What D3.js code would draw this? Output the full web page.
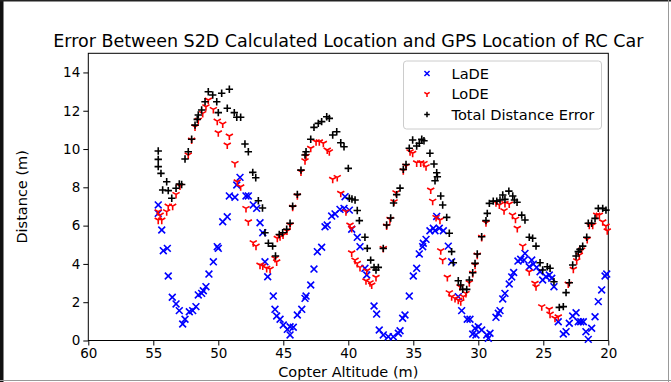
<!DOCTYPE html>
<html>
<head>
<meta charset="utf-8">
<script src="https://cdn.jsdelivr.net/npm/d3@7"></script>
<style>
  body { margin: 0; background: #fff; }
  svg { display: block; font-family: "DejaVu Sans", sans-serif; }
</style>
</head>
<body>
<div id="chart"></div>
<script>
const titleText = "Error Between S2D Calculated Location and GPS Location of RC Car";
const xTicks = [60, 55, 50, 45, 40, 35, 30, 25, 20];
const yTicks = [0, 2, 4, 6, 8, 10, 12, 14];
const seriesNames = ["LaDE", "LoDE", "Total Distance Error"];

// [copter altitude (m), error (m)]
const lade = [
  [54.62,7.08],[54.62,6.64],[54.35,5.77],[54.23,4.69],[53.92,4.81],[53.85,3.37],[53.54,2.26],[53.25,1.91],
  [53.0,1.56],[52.74,0.86],[52.56,1.11],[52.23,1.50],[51.97,1.56],[51.72,1.77],[51.54,2.38],[51.28,2.46],
  [51.15,2.60],[50.95,2.81],[50.72,3.47],[50.38,4.11],[50.08,4.90],[50.0,4.81],[49.66,6.20],[49.31,6.46],
  [49.15,7.55],[48.72,7.48],[48.58,8.12],[48.33,8.52],[47.87,7.55],[47.69,7.55],[47.31,7.08],[47.05,6.90],
  [46.79,6.15],[46.58,5.63],[46.41,4.11],[46.2,3.33],[45.77,2.32],[45.64,1.63],[45.51,1.28],[45.25,1.11],
  [45.0,0.81],[44.69,0.58],[44.48,0.72],[44.48,0.29],[44.23,0.69],[43.92,1.33],[43.58,1.63],[43.33,2.20],
  [43.25,2.32],[42.89,2.90],[42.64,3.73],[42.38,4.64],[42.05,4.87],[41.79,5.94],[41.62,6.03],[41.28,6.50],
  [41.02,6.61],[40.64,6.85],[40.33,6.90],[40.25,7.51],[39.92,6.81],[39.74,5.81],[39.31,5.39],[39.1,4.90],
  [38.72,3.77],[38.58,3.42],[38.02,1.80],[37.82,1.38],[37.62,0.55],[37.31,0.29],[36.92,0.20],[36.54,0.20],
  [36.15,0.38],[36.02,0.51],[35.82,1.16],[35.64,1.33],[35.31,2.32],[35.0,3.37],[34.74,3.77],[34.54,4.52],
  [34.28,4.90],[34.23,5.08],[34.02,5.28],[33.72,5.73],[33.46,5.86],[33.33,5.73],[33.2,6.48],[33.0,5.86],
  [32.69,5.73],[32.31,4.93],[32.05,4.11],[31.54,2.29],[31.28,1.56],[30.85,1.11],[30.64,1.11],[30.43,0.34],
  [30.25,0.64],[30.18,0.29],[30.0,0.72],[29.74,0.55],[29.35,0.29],[29.23,0.11],[29.1,0.38],[28.64,1.21],
  [28.46,1.42],[28.33,1.56],[28.12,2.17],[27.95,2.46],[27.62,2.95],[27.43,3.32],[27.28,3.55],[26.95,4.15],
  [26.74,4.24],[26.48,4.20],[26.41,4.55],[26.08,3.85],[25.89,4.20],[25.77,3.99],[25.51,3.82],[25.25,3.59],
  [25.05,3.16],[24.79,3.33],[24.54,3.42],[24.35,3.25],[24.18,2.81],[23.85,0.98],[23.46,0.34],[23.25,0.46],
  [23.0,0.90],[22.74,1.28],[22.48,1.45],[22.31,0.98],[22.12,0.98],[21.92,0.98],[21.72,0.46],[21.54,0.06],
  [21.28,0.64],[21.02,1.24],[20.77,2.03],[20.51,2.64],[20.25,3.37],[20.12,3.47]
];

const lode = [
  [54.62,6.73],[54.62,6.29],[54.48,6.55],[54.35,6.29],[53.97,6.73],[53.85,7.02],[53.51,7.02],[53.25,7.63],
  [52.95,8.07],[52.31,9.69],[52.05,10.47],[51.79,11.16],[51.54,11.51],[51.2,11.86],[50.95,12.21],[50.77,12.56],
  [50.38,12.07],[50.08,11.46],[49.66,11.31],[50.0,10.85],[49.15,10.68],[49.31,10.21],[48.72,9.25],[48.54,8.29],
  [48.28,8.03],[47.87,6.90],[47.69,6.20],[47.31,5.11],[47.1,4.93],[46.79,3.94],[46.58,3.89],[46.28,3.77],
  [46.02,3.73],[45.64,4.29],[45.51,4.11],[45.46,5.34],[45.25,5.42],[45.02,5.51],[44.72,5.72],[44.48,6.03],
  [44.28,6.96],[43.92,7.56],[43.64,8.81],[43.33,9.39],[43.25,9.63],[42.89,10.04],[42.48,10.38],[42.23,10.38],
  [41.92,10.30],[41.62,9.95],[41.46,9.86],[41.2,8.42],[40.85,8.52],[40.58,7.69],[40.18,6.73],[39.87,6.03],
  [39.74,5.86],[39.74,4.58],[39.48,4.20],[39.31,4.03],[39.1,3.82],[38.58,3.64],[38.64,3.12],[38.33,3.02],
  [38.2,2.90],[37.87,3.30],[37.31,4.81],[37.05,5.98],[36.79,6.33],[36.48,7.25],[36.33,7.72],[35.77,8.87],
  [35.56,9.11],[35.25,9.86],[35.05,9.78],[34.74,9.28],[34.43,9.28],[34.18,9.25],[34.02,9.08],[33.66,7.86],
  [33.51,7.28],[33.25,6.43],[32.95,6.29],[32.89,4.69],[32.74,4.20],[32.38,3.30],[32.23,2.50],[32.05,2.29],
  [31.79,2.20],[31.54,2.11],[31.35,2.03],[31.41,2.81],[31.15,2.29],[30.95,2.46],[30.69,3.02],[30.43,3.51],
  [30.25,3.94],[30.08,4.46],[29.74,5.39],[29.41,6.15],[28.64,7.20],[28.38,7.08],[27.95,7.16],[28.02,6.78],
  [27.62,7.13],[27.37,6.55],[27.14,6.34],[27.0,5.86],[26.58,4.93],[26.08,3.59],[25.64,2.99],[25.56,2.81],
  [25.12,1.77],[24.54,1.63],[24.48,1.38],[24.1,1.16],[23.85,1.24],[23.08,2.95],[22.69,3.72],[22.43,4.17],
  [22.23,4.46],[22.05,4.73],[21.62,5.28],[21.46,6.03],[21.2,6.03],[20.89,6.55],[20.69,6.55],[20.43,6.20],
  [20.18,5.98],[20.08,5.73]
];

const total = [
  [54.62,9.90],[54.62,9.46],[54.62,9.08],[54.41,8.73],[53.97,8.29],[54.28,7.86],[53.85,7.83],[53.25,7.95],
  [53.0,8.17],[52.82,8.15],[53.58,7.43],[52.56,9.48],[52.31,9.86],[52.05,10.51],[51.79,11.25],[51.62,11.55],
  [51.54,11.78],[51.28,12.04],[51.02,12.47],[50.77,12.99],[50.43,12.82],[50.12,12.47],[50.0,11.90],[49.74,12.91],
  [49.31,12.13],[49.15,13.12],[48.77,11.90],[48.58,11.66],[48.28,11.66],[47.95,10.26],[47.69,9.86],[47.35,8.78],
  [47.12,8.50],[46.92,7.30],[46.6,6.92],[46.41,5.63],[46.15,5.08],[45.82,4.93],[45.6,4.41],[45.31,5.54],
  [45.05,5.63],[44.74,5.81],[44.48,6.12],[44.28,7.02],[43.92,7.63],[43.64,8.90],[43.33,9.69],[43.25,9.86],
  [42.89,10.51],[42.64,11.13],[42.31,11.34],[42.05,11.43],[41.66,11.69],[41.46,11.60],[41.2,10.73],[40.89,10.90],
  [40.58,10.33],[40.33,10.12],[40.0,8.99],[39.92,7.43],[39.72,7.39],[39.48,7.34],[39.31,6.79],[39.15,6.26],
  [38.72,5.39],[38.54,4.81],[38.28,4.20],[38.02,3.82],[37.87,3.68],[37.69,3.82],[37.31,4.81],[37.05,6.03],
  [36.74,6.40],[36.52,7.18],[36.28,7.62],[36.02,7.96],[35.77,8.94],[35.56,9.19],[35.31,10.04],[35.05,10.47],
  [34.74,10.16],[34.54,10.30],[34.35,10.51],[34.18,10.43],[33.72,9.78],[33.41,9.22],[33.2,8.76],[33.15,8.55],
  [33.33,8.34],[32.89,7.55],[32.74,7.08],[32.43,6.43],[32.23,5.60],[32.05,4.64],[31.92,4.06],[31.54,3.12],
  [31.35,2.90],[31.2,2.67],[30.89,2.67],[30.69,3.16],[30.43,3.54],[30.25,4.03],[30.08,4.52],[29.74,5.42],
  [29.41,6.26],[29.31,6.64],[29.15,7.16],[28.85,7.28],[28.58,7.28],[28.33,7.34],[28.12,7.60],[27.95,7.37],
  [27.65,7.80],[27.35,7.55],[27.22,7.34],[27.02,7.22],[26.66,6.55],[26.41,6.29],[26.08,5.39],[25.82,5.34],
  [25.56,4.93],[25.25,4.06],[25.05,3.68],[24.69,3.85],[24.48,3.77],[24.18,3.07],[23.77,1.73],[23.46,1.77],
  [23.25,2.50],[23.0,3.02],[22.74,3.94],[22.48,4.41],[22.31,4.64],[22.18,4.76],[21.97,4.93],[21.66,5.39],
  [21.54,6.12],[21.28,6.12],[21.02,6.38],[20.77,6.90],[20.43,6.90],[20.18,6.81]
];

const width = 671, height = 382;
const margin = { top: 53.3, right: 62.7, bottom: 41.5, left: 88.3 };

const svg = d3.select("#chart").append("svg")
  .attr("width", width)
  .attr("height", height);

svg.append("rect").attr("width", width).attr("height", height).attr("fill", "#fff");

// screenshot frame
svg.append("rect").attr("x", 0).attr("y", 0).attr("width", 3.5).attr("height", height).attr("fill", "#111");
svg.append("rect").attr("x", 0).attr("y", 0).attr("width", width).attr("height", 1.5).attr("fill", "#222");
svg.append("rect").attr("x", width - 3).attr("y", 0).attr("width", 1).attr("height", height).attr("fill", "#999");
svg.append("rect").attr("x", 0).attr("y", height - 2).attr("width", width).attr("height", 1).attr("fill", "#999");

const x = d3.scaleLinear().domain([60, 20]).range([margin.left, width - margin.right]);
const y = d3.scaleLinear().domain([0, 15]).range([height - margin.bottom, margin.top]);

const xAxis = svg.append("g")
  .attr("transform", `translate(0,${height - margin.bottom})`)
  .call(d3.axisBottom(x).tickValues(xTicks).tickSize(5).tickPadding(3).tickFormat(d3.format("d")));
const yAxis = svg.append("g")
  .attr("transform", `translate(${margin.left},0)`)
  .call(d3.axisLeft(y).tickValues(yTicks).tickSize(5).tickPadding(3).tickFormat(d3.format("d")));

[xAxis, yAxis].forEach(g => {
  g.select(".domain").remove();
  g.selectAll("text").attr("font-size", 13.5).attr("font-family", "DejaVu Sans").attr("fill", "#000");
  g.selectAll("line").attr("stroke", "#000");
});

// frame of the axes
svg.append("rect")
  .attr("x", margin.left).attr("y", margin.top)
  .attr("width", width - margin.left - margin.right)
  .attr("height", height - margin.top - margin.bottom)
  .attr("fill", "none").attr("stroke", "#000").attr("stroke-width", 1);

const r = 3.4;
const markers = {
  x: `M${-r},${-r}L${r},${r}M${-r},${r}L${r},${-r}`,
  tri: `M0,0V${r * 1.2}M0,0L${-r * 1.05},${-r * 0.6}M0,0L${r * 1.05},${-r * 0.6}`,
  plus: `M${-r - 0.3},0H${r + 0.3}M0,${-r - 0.3}V${r + 0.3}`
};

const series = [
  { name: seriesNames[0], data: lade, color: "#0000ff", marker: markers.x },
  { name: seriesNames[1], data: lode, color: "#ff0000", marker: markers.tri },
  { name: seriesNames[2], data: total, color: "#000000", marker: markers.plus }
];

series.forEach(s => {
  svg.append("g")
    .selectAll("path")
    .data(s.data)
    .join("path")
    .attr("transform", d => `translate(${x(d[0])},${y(d[1])})`)
    .attr("d", s.marker)
    .attr("fill", "none")
    .attr("stroke", s.color)
    .attr("stroke-width", 1.6);
});

// title and labels
svg.append("text")
  .attr("x", (margin.left + width - margin.right) / 2)
  .attr("y", 47)
  .attr("text-anchor", "middle")
  .attr("font-size", 17.5)
  .text(titleText);

svg.append("text")
  .attr("x", (margin.left + width - margin.right) / 2)
  .attr("y", 377)
  .attr("text-anchor", "middle")
  .attr("font-size", 14.5)
  .text("Copter Altitude (m)");

svg.append("text")
  .attr("transform", `translate(27,${(margin.top + height - margin.bottom) / 2}) rotate(-90)`)
  .attr("text-anchor", "middle")
  .attr("font-size", 14.5)
  .text("Distance (m)");

// legend
const legend = svg.append("g").attr("transform", "translate(403.5,61)");
legend.append("rect")
  .attr("width", 198).attr("height", 68).attr("rx", 3)
  .attr("fill", "#fff").attr("fill-opacity", 0.8)
  .attr("stroke", "#ccc").attr("stroke-width", 1);
series.forEach((s, i) => {
  const row = legend.append("g").attr("transform", `translate(0,${12.5 + i * 20.5})`);
  row.append("path")
    .attr("transform", "translate(23.5,0) scale(0.75)")
    .attr("d", s.marker)
    .attr("fill", "none").attr("stroke", s.color).attr("stroke-width", 2);
  row.append("text")
    .attr("x", 48).attr("y", 5)
    .attr("font-size", 14.6)
    .text(s.name);
});
</script>
</body>
</html>
